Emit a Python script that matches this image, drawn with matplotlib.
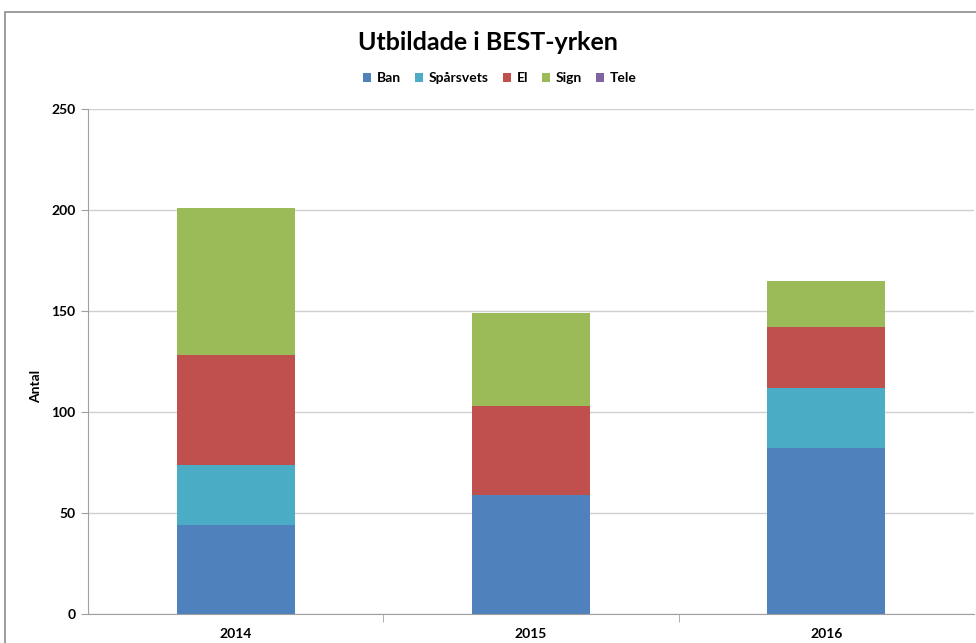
import matplotlib
matplotlib.use("Agg")
import matplotlib.pyplot as plt
import numpy as np
from matplotlib.patches import Rectangle

plt.rcParams["font.family"] = ["Lato", "DejaVu Sans"]

years = ["2014", "2015", "2016"]
series = ["Ban", "Spårsvets", "El", "Sign", "Tele"]
ban = [44, 59, 82]
sparsvets = [30, 0, 30]
el = [54, 44, 30]
sign = [73, 46, 23]
tele = [0, 0, 0]
colors = ["#4F81BD", "#4BACC6", "#C0504D", "#9BBB59", "#8064A2"]

fig = plt.figure(figsize=(9.76, 6.43), dpi=100)
W, H = 976, 643
ax = fig.add_axes([88 / W, 1 - 614 / H, (974 - 88) / W, (614 - 109) / H])

# outer chart frame
fig.patches.append(Rectangle((5 / W, -0.1), 1.2, 1 - 12 / H + 0.1, transform=fig.transFigure,
                             fill=False, edgecolor="#8c8c8c", linewidth=1.2))

x = np.arange(len(years))
bottom = np.zeros(len(years))
for name, vals, c in zip(series, [ban, sparsvets, el, sign, tele], colors):
    ax.bar(x, vals, width=0.4, bottom=bottom, color=c, label=name, zorder=2)
    bottom += np.array(vals)

ax.set_xlim(-0.5, 2.5)
ax.set_ylim(0, 250)
ax.set_yticks(range(0, 251, 50))
ax.yaxis.grid(True, color="#d0d0d0", linewidth=1, zorder=0)
ax.set_axisbelow(True)

ax.set_xticks(x)
ax.set_xticklabels(years, fontsize=10, fontweight="bold")
ax.set_xticks([0.5, 1.5], minor=True)
ax.tick_params(axis="x", which="major", length=0, pad=10)
ax.tick_params(axis="x", which="minor", length=6, color="#a0a0a0", direction="out")
ax.tick_params(axis="y", length=5, color="#a0a0a0", labelsize=10, pad=4)
for lab in ax.get_yticklabels():
    lab.set_fontweight("bold")

for s in ["top", "right"]:
    ax.spines[s].set_visible(False)
ax.spines["left"].set_color("#a0a0a0")
ax.spines["bottom"].set_color("#a0a0a0")

ax.set_ylabel("Antal", fontsize=10, fontweight="bold")
ax.yaxis.set_label_coords(-46 / 886, 0.45)

fig.text(0.5, 1 - 42 / H, "Utbildade i BEST-yrken", ha="center", va="center",
         fontsize=18, fontweight="bold")
fig.legend(loc="center", bbox_to_anchor=(0.512, 1 - 78 / H), ncol=5, frameon=False,
           prop={"weight": "bold", "size": 10}, handlelength=0.6,
           handleheight=0.6, handletextpad=0.4, columnspacing=1.0)

fig.savefig("out.png", dpi=100)
